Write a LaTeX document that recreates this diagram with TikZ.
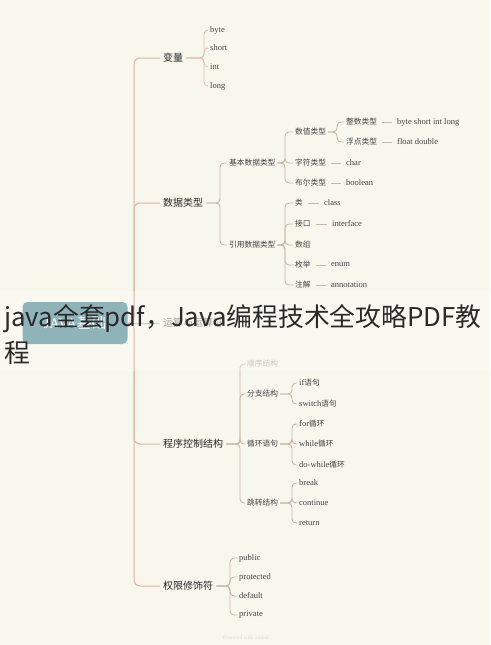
\documentclass[tikz,border=0pt]{standalone}
\usepackage{fontspec}
\setmainfont{Liberation Serif}
\newfontfamily\cjk{Noto Sans CJK SC}
\definecolor{bgc}{HTML}{F8F7EE}
\definecolor{trunkc}{HTML}{DDB5A2}
\definecolor{brc}{HTML}{C9B8A9}
\definecolor{brpink}{HTML}{E6C0B2}
\definecolor{leafc}{HTML}{444444}
\definecolor{rootc}{HTML}{699CA4}
\definecolor{titlec}{HTML}{2A2A2A}
\tikzset{
  cat/.style={anchor=west, inner sep=3pt, font=\cjk\fontsize{10}{12}\selectfont, text=black!85},
  lf/.style={anchor=west, inner sep=2pt, font=\fontsize{8.5}{10}\selectfont, text=leafc},
  lc/.style={anchor=west, inner sep=2pt, font=\cjk\fontsize{7.7}{9}\selectfont, text=leafc},
  trunk/.style={draw=trunkc, line width=1pt, rounded corners=6pt},
  br/.style={draw=brc, line width=0.9pt, rounded corners=4pt},
  brp/.style={draw=brpink, line width=0.9pt, rounded corners=4pt},
}
\begin{document}
\begin{tikzpicture}[x=1pt,y=-1pt]
\fill[bgc] (0,0) rectangle (490,645);
\useasboundingbox (0,0) rectangle (490,645);

% root
\node[fill=rootc, rounded corners=5pt, minimum width=105pt, minimum height=42pt, text=white,
      font=\fontsize{14.5}{16}\selectfont] (root) at (75,323) {JAVA{\cjk 基础}};

% categories
\node[cat] (bl) at (160,58) {变量};
\node[cat] (sj) at (160,203) {数据类型};
\node[cat, text=black!50] (ys) at (160,323) {运算与运算符};
\node[cat] (cx) at (160,444) {程序控制结构};
\node[cat] (qx) at (160,586) {权限修饰符};

\coordinate (tk) at (134,0);
\foreach \c in {bl,sj,cx,qx}{
  \draw[trunk] (root.east) -- (root.east -| tk) |- (\c.west);
}
\draw[trunk] (root.east) -- (ys.west);

% 变量
\coordinate (b1) at (204,0);
\node[lf] (byte) at (208,30) {byte};
\node[lf] (short) at (208,48) {short};
\node[lf] (int) at (208,67) {int};
\node[lf] (long) at (208,86) {long};
\foreach \c in {byte,short,int,long}{
  \draw[brp] (bl.east) -- (bl.east -| b1) |- (\c.west);
}

% 数据类型
\coordinate (b2) at (220,0);
\node[lc] (jb) at (227,163) {基本数据类型};
\node[lc] (yy) at (227,245) {引用数据类型};
\foreach \c in {jb,yy}{
  \draw[br] (sj.east) -- (sj.east -| b2) |- (\c.west);
}
\coordinate (b3) at (285,0);
\node[lc] (sz) at (293,132) {数值类型};
\node[lc] (zf) at (293,163) {字符类型};
\node[lc] (be) at (293,183) {布尔类型};
\foreach \c in {sz,zf,be}{
  \draw[br] (jb.east) -- (jb.east -| b3) |- (\c.west);
}
\coordinate (b4) at (337,0);
\node[lc] (zs) at (344,122) {整数类型};
\node[lc] (fd) at (344,142) {浮点类型};
\foreach \c in {zs,fd}{
  \draw[br] (sz.east) -- (sz.east -| b4) |- (\c.west);
}
\node[lf] (bsil) at (395,122) {byte short int long};
\node[lf] (fdb) at (395,142) {float double};
\node[lf] (char) at (344,163) {char};
\node[lf] (bool) at (344,183) {boolean};
\draw[br, shorten <=3pt, shorten >=3pt] (zs.east) -- (bsil.west);
\draw[br, shorten <=3pt, shorten >=3pt] (fd.east) -- (fdb.west);
\draw[br, shorten <=3pt, shorten >=3pt] (zf.east) -- (char.west);
\draw[br, shorten <=3pt, shorten >=3pt] (be.east) -- (bool.west);

\coordinate (b5) at (285,0);
\node[lc] (lei) at (293,203) {类};
\node[lc] (jk) at (293,224) {接口};
\node[lc] (shz) at (293,245) {数组};
\node[lc] (mj) at (293,265) {枚举};
\node[lc] (zj) at (293,285) {注解};
\foreach \c in {lei,jk,shz,mj,zj}{
  \draw[br] (yy.east) -- (yy.east -| b5) |- (\c.west);
}
\node[lf] (class) at (322,203) {class};
\node[lf] (intf) at (330,224) {interface};
\node[lf] (enum) at (329,265) {enum};
\node[lf] (anno) at (329,285) {annotation};
\draw[br, shorten <=3pt, shorten >=3pt] (lei.east) -- (class.west);
\draw[br, shorten <=3pt, shorten >=3pt] (jk.east) -- (intf.west);
\draw[br, shorten <=3pt, shorten >=3pt] (mj.east) -- (enum.west);
\draw[br, shorten <=3pt, shorten >=3pt] (zj.east) -- (anno.west);

% 程序控制结构
\coordinate (b6) at (240,0);
\node[lc, text=black!30] (sx) at (245,364) {顺序结构};
\node[lc] (fz) at (245,394) {分支结构};
\node[lc] (xh) at (245,444) {循环语句};
\node[lc] (tz) at (245,503) {跳转结构};
\foreach \c in {sx,fz,xh,tz}{
  \draw[br] (cx.east) -- (cx.east -| b6) |- (\c.west);
}
\coordinate (b7) at (292,0);
\node[lf] (if) at (297,383) {if{\cjk\fontsize{7.7}{9}\selectfont 语句}};
\node[lf] (sw) at (297,404) {switch{\cjk\fontsize{7.7}{9}\selectfont 语句}};
\foreach \c in {if,sw}{
  \draw[br] (fz.east) -- (fz.east -| b7) |- (\c.west);
}
\node[lf] (for) at (297,424) {for{\cjk\fontsize{7.7}{9}\selectfont 循环}};
\node[lf] (wh) at (297,444) {while{\cjk\fontsize{7.7}{9}\selectfont 循环}};
\node[lf] (dw) at (297,465) {do-while{\cjk\fontsize{7.7}{9}\selectfont 循环}};
\foreach \c in {for,wh,dw}{
  \draw[br] (xh.east) -- (xh.east -| b7) |- (\c.west);
}
\node[lf] (brk) at (297,483) {break};
\node[lf] (cont) at (297,503) {continue};
\node[lf] (ret) at (297,523) {return};
\foreach \c in {brk,cont,ret}{
  \draw[br] (tz.east) -- (tz.east -| b7) |- (\c.west);
}

% 权限修饰符
\coordinate (b8) at (230,0);
\node[lf] (pub) at (237,558) {public};
\node[lf] (pro) at (237,577) {protected};
\node[lf] (def) at (237,596) {default};
\node[lf] (pri) at (237,615) {private};
\foreach \c in {pub,pro,def,pri}{
  \draw[br] (qx.east) -- (qx.east -| b8) |- (\c.west);
}

% footer
\node[font=\fontsize{5.5}{6}\selectfont, text=black!15] (pw) at (246,638) {Powered with xmind};

% overlay band and title
\fill[white, opacity=0.25] (0,291) rectangle (490,371);
\node[anchor=base west, inner sep=0pt, font=\cjk\fontsize{25.8}{30}\selectfont, text=titlec] (t1) at (4,326) {java全套pdf，Java编程技术全攻略PDF教};
\node[anchor=base west, inner sep=0pt, font=\cjk\fontsize{25.8}{30}\selectfont, text=titlec] (t2) at (4,362) {程};
\end{tikzpicture}
\end{document}
